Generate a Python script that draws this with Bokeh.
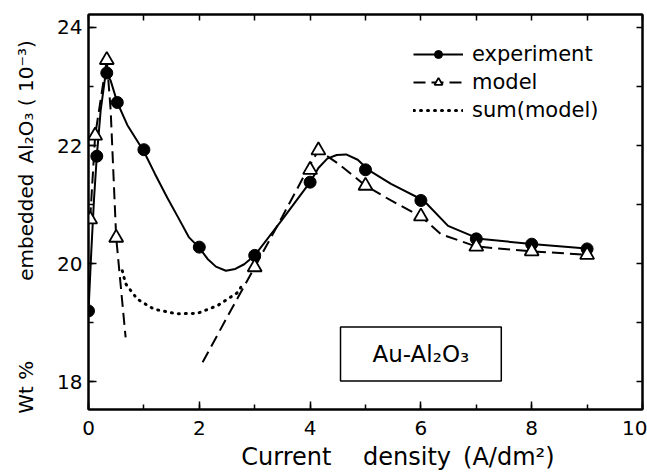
from bokeh.plotting import figure
from bokeh.models import (LinearAxis, SingleIntervalTicker, Range1d, Legend,
                          LegendItem, Label)
from bokeh.embed import file_html
from bokeh.resources import INLINE

FONT = "DejaVu Sans"

# ---- data ----
# measured points: experiment (filled circles)
exp_x = [0.0, 0.15, 0.33, 0.52, 1.0, 2.0, 3.0, 4.0, 5.0, 6.0, 7.0, 8.0, 9.0]
exp_y = [19.2, 21.82, 23.23, 22.73, 21.93, 20.28, 20.14, 21.38, 21.59, 21.07, 20.42, 20.33, 20.25]

# smooth curve drawn through the experiment points
exp_curve_x = [0.0, 0.05, 0.1, 0.15, 0.22, 0.3, 0.33, 0.4, 0.52, 0.7, 1.0, 1.2, 1.42, 1.62,
               1.81, 2.0, 2.15, 2.3, 2.48, 2.65, 2.81, 3.0, 3.5, 4.0, 4.15, 4.31, 4.48,
               4.65, 4.86, 5.05, 5.46, 6.05, 6.49, 7.05, 8.05, 9.1]
exp_curve_y = [19.2, 20.2, 21.1, 21.82, 22.6, 23.15, 23.23, 23.1, 22.73, 22.35, 21.9, 21.52,
               21.12, 20.78, 20.45, 20.27, 20.08, 19.95, 19.88, 19.91, 19.99, 20.14, 20.75,
               21.38, 21.62, 21.78, 21.84, 21.85, 21.76, 21.59, 21.35, 21.07, 20.64, 20.42,
               20.33, 20.25]

# model points (open triangles)
model_x = [0.03, 0.12, 0.33, 0.5, 3.0, 4.0, 4.15, 5.0, 6.0, 7.0, 8.0, 9.0]
model_y = [20.75, 22.17, 23.45, 20.44, 19.94, 21.59, 21.92, 21.32, 20.8, 20.29, 20.21, 20.15]

# model dashed curve, first branch (low current densities)
model1_curve_x = [0.03, 0.12, 0.33, 0.4, 0.5, 0.67]
model1_curve_y = [20.75, 22.17, 23.45, 22.6, 20.44, 18.75]

# model dashed curve, second branch
model2_curve_x = [2.06, 2.5, 3.0, 3.5, 3.95, 4.15, 4.5, 5.0, 5.46, 6.0, 6.36, 7.0, 8.0, 9.0]
model2_curve_y = [18.33, 19.09, 19.94, 20.8, 21.59, 21.92, 21.7, 21.32, 21.07, 20.8, 20.5,
                  20.29, 20.21, 20.15]

# sum(model) dotted curve
sum_x = [0.61, 0.67, 0.88, 1.18, 1.6, 1.97, 2.33, 2.69, 2.75]
sum_y = [19.88, 19.66, 19.40, 19.23, 19.15, 19.16, 19.29, 19.51, 19.6]

x_label = "\u2003\u2003\u2002\u2009Current\u2003 density\u2002(A/dm\u00b2)"
y_label = "Wt %\u2003\u2003\u2003\u2003embedded\u2002Al\u2082O\u2083 ( 10\u207b\u00b3)\u2003\u2002"
box_text = "Au-Al\u2082O\u2083"
legend_labels = ["experiment", "model", "sum(model)"]

# ---- figure ----
p = figure(width=647, height=474, output_backend="svg", toolbar_location=None,
           x_range=Range1d(0, 10), y_range=Range1d(17.53, 24.22),
           min_border_left=88, min_border_right=5, min_border_top=14, min_border_bottom=65,
           background_fill_color="white", border_fill_color="white")
p.xgrid.grid_line_color = None
p.ygrid.grid_line_color = None
p.outline_line_color = "black"
p.outline_line_width = 2

xa = p.xaxis[0]
ya = p.yaxis[0]
xa.ticker = SingleIntervalTicker(interval=2, num_minor_ticks=2)
ya.ticker = SingleIntervalTicker(interval=2, num_minor_ticks=2)
for ax in (xa, ya):
    ax.major_tick_in = 8
    ax.major_tick_out = 0
    ax.minor_tick_in = 5
    ax.minor_tick_out = 0
    ax.axis_line_width = 2
    ax.axis_line_color = "black"
    ax.major_tick_line_width = 1.5
    ax.minor_tick_line_width = 1.5
    ax.major_tick_line_color = "black"
    ax.minor_tick_line_color = "black"
    ax.major_label_text_font = FONT
    ax.major_label_text_font_size = "20px"
    ax.major_label_text_color = "black"
    ax.axis_label_text_font = FONT
    ax.axis_label_text_font_style = "normal"
    ax.axis_label_text_color = "black"

xa.axis_label = x_label
xa.axis_label_text_font_size = "24px"
xa.major_label_standoff = 11
xa.axis_label_standoff = 5

ya.axis_label = y_label
ya.axis_label_text_font_size = "20px"
ya.major_label_standoff = 6
ya.axis_label_standoff = 16

top = LinearAxis(ticker=SingleIntervalTicker(interval=1, num_minor_ticks=0),
                 major_tick_in=6, major_tick_out=0, minor_tick_line_color=None,
                 major_label_text_color=None, axis_line_width=2,
                 major_tick_line_width=1.5, major_label_standoff=0)
right = LinearAxis(ticker=SingleIntervalTicker(interval=1, num_minor_ticks=0),
                   major_tick_in=6, major_tick_out=0, minor_tick_line_color=None,
                   major_label_text_color=None, axis_line_width=2,
                   major_tick_line_width=1.5, major_label_standoff=0)
p.add_layout(top, "above")
p.add_layout(right, "right")

# ---- curves ----
r_exp_line = p.line(exp_curve_x, exp_curve_y, line_color="black", line_width=2)
r_m1 = p.line(model1_curve_x, model1_curve_y, line_color="black", line_width=2,
              line_dash="12 6")
r_m2 = p.line(model2_curve_x, model2_curve_y, line_color="black", line_width=2,
              line_dash="12 6")
r_sum = p.line(sum_x, sum_y, line_color="black", line_width=3, line_dash="1 6",
               line_cap="round")

r_exp_pts = p.scatter(exp_x, exp_y, marker="circle", size=12, fill_color="black",
                      line_color="black")
r_model_pts = p.scatter(model_x, model_y, marker="triangle", size=14, fill_color="white",
                        line_color="black", line_width=1.8)

legend = Legend(items=[
    LegendItem(label=legend_labels[0], renderers=[r_exp_line, r_exp_pts]),
    LegendItem(label=legend_labels[1], renderers=[r_m2, r_model_pts]),
    LegendItem(label=legend_labels[2], renderers=[r_sum]),
], location="top_right", margin=28, padding=8, spacing=4, glyph_width=50,
    glyph_height=20, label_standoff=9, label_width=142, label_text_font=FONT,
    label_text_font_size="21px", label_text_color="black", border_line_color=None,
    background_fill_alpha=0)
p.add_layout(legend)

box = Label(x=6.0, y=18.47, text=box_text, text_align="center", text_baseline="middle",
            text_font=FONT, text_font_size="23px", text_color="black",
            border_line_color="black", border_line_width=1.5,
            background_fill_color="white",
            padding=dict(left=32, right=32, top=14, bottom=14))
p.add_layout(box)

open("out.html", "w").write(file_html(p, INLINE))
